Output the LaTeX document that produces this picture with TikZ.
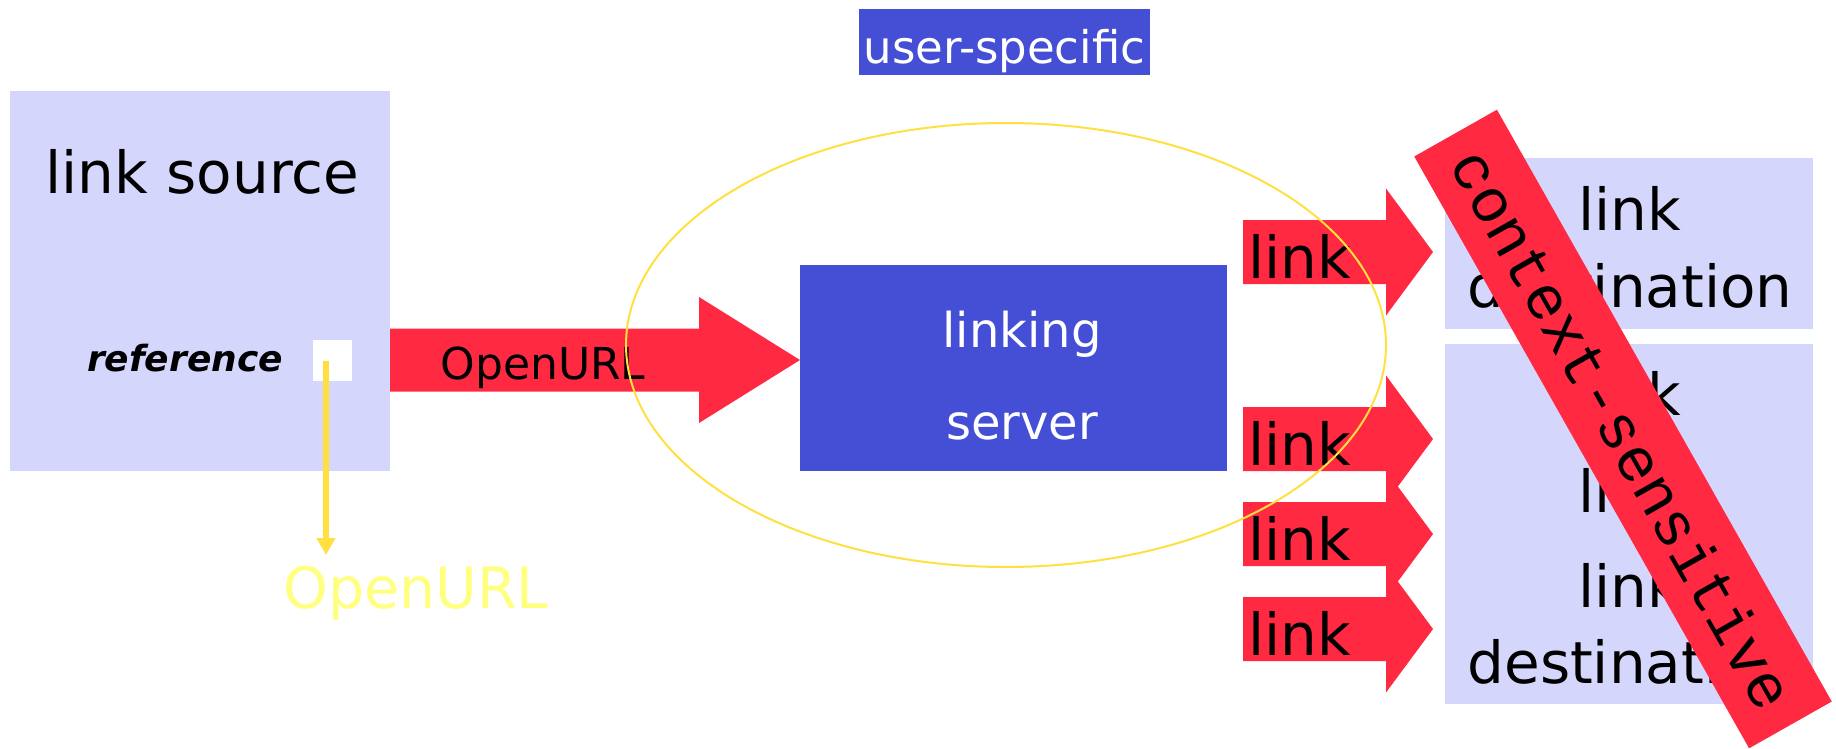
\documentclass[tikz,border=0pt]{standalone}
\usepackage{fontspec}
\setmainfont{DejaVu Sans}
\newfontfamily\bandfont{Liberation Mono}
\usetikzlibrary{calc,arrows.meta}

\definecolor{paleblue}{RGB}{213,214,252}
\definecolor{serverblue}{RGB}{68,79,214}
\definecolor{linkred}{RGB}{255,41,66}
\definecolor{ringyellow}{RGB}{255,224,64}
\definecolor{urlyellow}{RGB}{255,255,128}

\tikzset{
  panel/.style={fill=paleblue, inner sep=0pt, outer sep=0pt},
  bluebox/.style={fill=serverblue, inner sep=0pt, outer sep=0pt},
  bigtext/.style={anchor=base, inner sep=0pt, font=\fontsize{58}{60}\selectfont},
  whitetext/.style={anchor=base, inner sep=0pt, text=white},
  ring/.style={draw=ringyellow, line width=2pt},
  urlarrow/.style={draw=ringyellow, line width=5.5pt, -{Triangle[width=18pt,length=17pt]}},
  band/.style={fill=linkred, inner sep=0pt, font=\bandfont\fontsize{62}{62}\selectfont}
}

% fat arrow: start, tip, half shaft, half head, head length
\newcommand{\fatarrow}[5]{%
  \fill[linkred] ($(#1)+(0,-#3)$) -- ($(#2)+(-#5,-#3)$) -- ($(#2)+(-#5,-#4)$) -- (#2)
    -- ($(#2)+(-#5,#4)$) -- ($(#2)+(-#5,#3)$) -- ($(#1)+(0,#3)$) -- cycle;}

\begin{document}
\begin{tikzpicture}[x=1pt,y=1pt,yscale=-1]
\useasboundingbox (0,0) rectangle (1836,748);

%Shape: Rectangle [link source]
\node[panel, minimum width=380pt, minimum height=380pt] (src) at (200,281) {};
% Text Node
\node[bigtext] (srctitle) at (202.5,193) {link source};
% Text Node
\node[anchor=base, inner sep=0pt, font=\fontsize{36}{38}\selectfont\bfseries\itshape] (ref) at (185,371) {reference};
%Shape: Rectangle [white marker]
\node[fill=white, inner sep=0pt, minimum width=39pt, minimum height=41pt] (refbox) at (332.5,360.5) {};

%Shape: Rectangle [linking server]
\node[bluebox, minimum width=427pt, minimum height=206pt] (server) at (1013.5,368) {};
\node[whitetext, font=\fontsize{48}{50}\selectfont] (srv1) at ($(server.center)+(8.5,-21)$) {linking};
\node[whitetext, font=\fontsize{48}{50}\selectfont] (srv2) at ($(server.center)+(8.5,71)$) {server};

%Shape: Rectangle [user-specific]
\node[bluebox, minimum width=291pt, minimum height=66pt] (usr) at (1004.5,42) {};
\node[whitetext, font=\fontsize{45}{47}\selectfont] (usrtext) at ($(usr.center)+(0,21)$) {user-specific};

%Shape: Rectangle [destinations]
\node[panel, minimum width=368pt, minimum height=171pt] (dest1) at (1629,243.5) {};
\node[panel, minimum width=368pt, minimum height=360pt] (dest2) at (1629,524) {};

%Block arrow from the source to the server
\coordinate (ou) at (0,360);
\fatarrow{src.east |- ou}{server.west |- ou}{31.5}{63}{101}
\node[anchor=base, inner sep=0pt, font=\fontsize{44}{46}\selectfont] (outext) at (543,379) {OpenURL};

%Block arrows to the destinations
\foreach \i/\y/\d in {1/252/dest1, 2/439/dest2, 3/534/dest2, 4/629/dest2} {
  \coordinate (lk\i) at (1243,\y);
  \coordinate (lt\i) at ($(lk\i -| \d.west)+(-12,0)$);
  \fatarrow{lk\i}{lt\i}{32}{63.5}{47}
  \node[bigtext] (lw\i) at ($(lk\i)+(57,26)$) {link};
}

%Ellipse
\draw[ring] (1006,345) ellipse [x radius=380, y radius=222];

%Yellow drop arrow
\node[anchor=base, inner sep=0pt, text=urlyellow, font=\fontsize{57}{59}\selectfont] (ourl) at (416,608) {OpenURL};
\coordinate (drop) at (326,555);
\draw[urlarrow] (refbox.center -| drop) -- (drop);

% Text Node
\node[bigtext] (d1a) at ($(dest1.north)+(1,72)$) {link};
\node[bigtext] (d1b) at ($(dest1.north)+(1,149)$) {destination};
\node[bigtext] (d2a) at ($(dest2.north)+(1,71)$) {link};
\node[bigtext] (d2b) at ($(dest2.north)+(1,168)$) {link};
\node[bigtext] (d2c) at ($(dest2.north)+(1,263)$) {link};
\node[bigtext] (d2d) at ($(dest2.north)+(1,339)$) {destination};

%Red band
\node[band, rotate=-60.5, minimum width=680pt, minimum height=95pt] (ctx) at (1623,429) {context-sensitive};

\end{tikzpicture}
\end{document}
